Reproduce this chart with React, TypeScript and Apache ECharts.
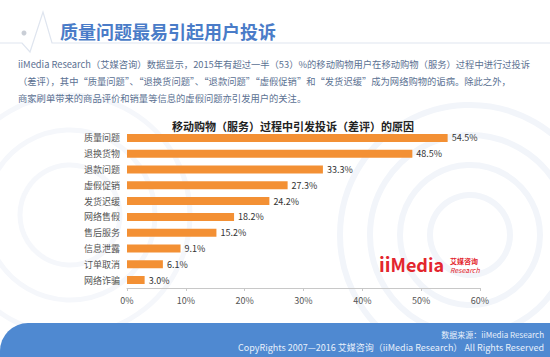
import React, { useEffect, useRef } from "react";
import * as echarts from "echarts";

const categories = ["质量问题", "退换货物", "退款问题", "虚假促销", "发货迟缓", "网络售假", "售后服务", "信息泄露", "订单取消", "网络诈骗"];
const values = [54.5, 48.5, 33.3, 27.3, 24.2, 18.2, 15.2, 9.1, 6.1, 3.0];
const xTicks = { min: 0, max: 60, interval: 10 };

const headerTitle = "质量问题最易引起用户投诉";
const paragraph = [
  "iiMedia Research（艾媒咨询）数据显示，2015年有超过一半（53）%的移动购物用户在移动购物（服务）过程中进行过投诉",
  "（差评），其中“质量问题”、“退换货问题”、“退款问题”“虚假促销”和“发货迟缓”成为网络购物的诟病。除此之外，",
  "商家刷单带来的商品评价和销量等信息的虚假问题亦引发用户的关注。",
];
const chartTitle = "移动购物（服务）过程中引发投诉（差评）的原因";
const footerLines = ["数据来源：iiMedia Research", "CopyRights 2007—2016 艾媒咨询（iiMedia Research） All Rights Reserved"];

const FONT = "'Noto Sans CJK SC', 'Noto Sans', sans-serif";

export default function App() {
  const ref = useRef<HTMLDivElement>(null);
  useEffect(() => {
    if (!ref.current) return;
    const chart = echarts.init(ref.current, null, { renderer: "svg" });
    const circles: any[] = [];
    [40, 70, 100, 130].forEach((r) =>
      circles.push({ type: "circle", z: -10, silent: true, shape: { cx: 470, cy: 235, r }, style: { fill: "none", stroke: "#f2f5fa", lineWidth: 6 } })
    );
    [50, 85, 120].forEach((r) =>
      circles.push({ type: "circle", z: -10, silent: true, shape: { cx: 70, cy: 215, r }, style: { fill: "none", stroke: "#f5f7fb", lineWidth: 5 } })
    );
    chart.setOption({
      animation: false,
      backgroundColor: "#ffffff",
      textStyle: { fontFamily: FONT },
      title: {
        text: chartTitle,
        left: 288,
        textAlign: "center",
        top: 115,
        textStyle: { fontSize: 11, fontWeight: "bold", color: "#222", fontFamily: FONT },
      },
      grid: { left: 127, right: 70, top: 130, bottom: 69, containLabel: false },
      xAxis: {
        type: "value",
        min: xTicks.min,
        max: xTicks.max,
        interval: xTicks.interval,
        axisLabel: { formatter: "{value}%", fontSize: 9, color: "#555", margin: 8, fontFamily: FONT },
        axisLine: { show: true, lineStyle: { color: "#c8c8c8" } },
        axisTick: { show: true, length: 3, lineStyle: { color: "#c8c8c8" } },
        splitLine: { show: false },
      },
      yAxis: {
        type: "category",
        data: categories,
        inverse: true,
        axisLabel: { fontSize: 9, color: "#555", margin: 7, fontFamily: FONT },
        axisLine: { show: false },
        axisTick: { show: false },
      },
      series: [
        {
          type: "bar",
          data: values,
          barWidth: 8,
          itemStyle: { color: "#f39034" },
          label: {
            show: true,
            position: "right",
            distance: 4,
            formatter: (p: any) => p.value.toFixed(1) + "%",
            fontSize: 9,
            color: "#333",
            fontFamily: FONT,
          },
        },
      ],
      graphic: [
        ...circles,
        {
          type: "polyline",
          silent: true,
          shape: { points: [[0, 43], [22, 43], [30, 52], [43, 12], [52, 43], [550, 43]] },
          style: { stroke: "#dfe5ef", lineWidth: 1.2, fill: "none" },
        },
        { type: "circle", silent: true, shape: { cx: 24, cy: 33, r: 2.5 }, style: { fill: "#c9ced6" } },
        {
          type: "text",
          left: 60,
          top: 22,
          style: { text: headerTitle, fontSize: 18, fontWeight: "bold", fill: "#4a7cc8", fontFamily: FONT },
        },
        ...paragraph.map((t, i) => ({
          type: "text",
          left: 18,
          top: 59 + i * 17,
          style: { text: t, fontSize: 9.3, fill: "#5b7192", fontFamily: FONT },
        })),
        {
          type: "text",
          left: 379,
          top: 254,
          style: {
            text: "{a|ii}{b|Media}",
            fontFamily: FONT,
            rich: {
              a: { fontSize: 19, fontWeight: "bold", fill: "#e3262e", fontFamily: FONT },
              b: { fontSize: 18, fontWeight: "bold", fill: "#e3262e", fontFamily: FONT },
            },
          },
        },
        {
          type: "text",
          left: 450,
          top: 257,
          style: { text: "艾媒咨询", fontSize: 7, fontWeight: "bold", fill: "#e3262e", fontFamily: FONT },
        },
        {
          type: "text",
          left: 450,
          top: 266,
          style: { text: "Research", fontSize: 7, fontStyle: "italic", fill: "#e3262e", fontFamily: FONT },
        },
        {
          type: "rect",
          silent: true,
          shape: { x: 0, y: 323, width: 550, height: 34, r: [28, 0, 0, 0] },
          style: { fill: "#4f89d1" },
        },
        {
          type: "text",
          right: 6,
          top: 330,
          style: { text: footerLines[0], fontSize: 8, fill: "#e8f0fb", fontFamily: FONT },
        },
        {
          type: "text",
          right: 6,
          top: 343,
          style: { text: footerLines[1], fontSize: 9, fill: "#e8f0fb", fontFamily: FONT },
        },
      ],
    });
    return () => chart.dispose();
  }, []);
  return <div ref={ref} style={{ position: "fixed", left: 0, top: 0, width: 550, height: 357 }} />;
}
